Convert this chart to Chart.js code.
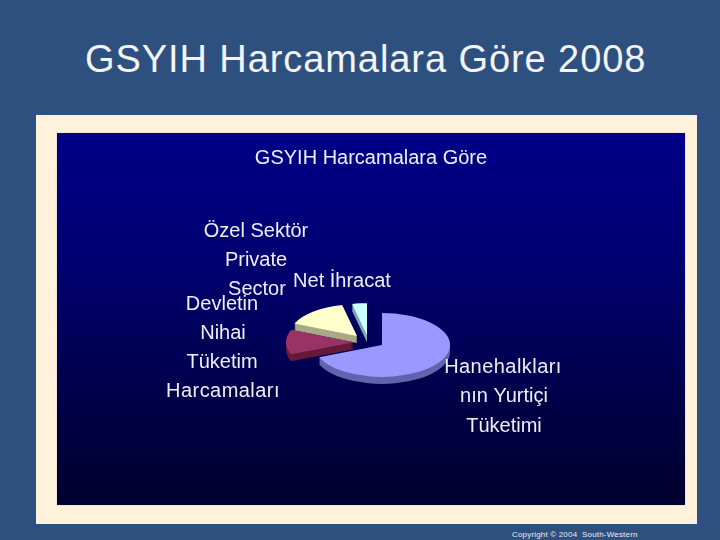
<!DOCTYPE html>
<html><head><meta charset="utf-8">
<script src="https://cdn.jsdelivr.net/npm/chart.js@4"></script>
<style>
html,body{margin:0;padding:0;width:720px;height:540px;overflow:hidden;background:#2e507e}
#cream{position:absolute;left:36px;top:115px;width:661px;height:409px;background:#fff1da}
#panel{position:absolute;left:57px;top:133px;width:628px;height:372px;background:linear-gradient(#000088 0%,#000070 35%,#00004a 70%,#00002e 100%);box-shadow:0 0 1px #b8b0d0}
#slideTitle{position:absolute;left:85px;top:37px;color:#f2f4f8;font:38px "Liberation Sans",Arial,sans-serif;line-height:44px;letter-spacing:.92px;white-space:nowrap}
#copy{position:absolute;left:512px;top:529px;color:#e8eef5;font:8px "Liberation Sans",Arial,sans-serif;line-height:11px;letter-spacing:.18px;white-space:nowrap}
canvas{position:absolute;left:0;top:0}
</style></head><body>
<div id="cream"></div><div id="panel"></div>
<div id="slideTitle">GSYIH Harcamalara Göre 2008</div>
<div id="copy">Copyright © 2004&nbsp; South-Western</div>
<canvas id="c" width="720" height="540"></canvas>
<script>
const categories = ["Hanehalkları nın Yurtiçi Tüketimi","Devletin Nihai Tüketim Harcamaları","Özel Sektör Private Sector","Net İhracat"];
const shares = [68.8, 12.6, 15.1, 3.5];
const topColors = ["#9999ff","#993366","#ffffcc","#ccffff"];
const sideColors = ["#6264ae","#661a3a","#a9a986","#7fa9b0"];
const explodeX = [0,-28,-25,-15];
const explodeY = [0,-6,-19,-21];
const drawOrder = [3,2,1,0];
const innerTitle = "GSYIH Harcamalara Göre";
const labelLines = [
  ["Özel Sektör",256,231,0],["Private",256,260,0],["Sector",257,289,0],
  ["Net İhracat",342,281,0],
  ["Devletin",222,304,0],["Nihai",223,333,0],["Tüketim",222,362,0],["Harcamaları",223,391,.45],
  ["Hanehalkları",503,367,.45],["nın Yurtiçi",504,396,0],["Tüketimi",504,426,0]
];
const squash = 0.47, depth = 7;

const pie3d = {
  id:'pie3d',
  beforeDatasetsDraw(chart){
    const ctx = chart.ctx, meta = chart.getDatasetMeta(0), cy = (chart.chartArea.top+chart.chartArea.bottom)/2;
    const paint = (i,dy,color)=>{
      const el = meta.data[i], saved = el.options;
      el.options = Object.assign({},saved,{backgroundColor:color,borderWidth:0});
      ctx.save();
      ctx.translate(explodeX[i], cy+dy+explodeY[i]*squash);
      ctx.scale(1,squash);
      ctx.translate(0,-cy);
      el.draw(ctx);
      ctx.restore();
      el.options = saved;
    };
    drawOrder.forEach(i=>{
      for(let d=depth;d>0;d--) paint(i,d,sideColors[i]);
      paint(i,0,topColors[i]);
    });
    return false;
  },
  afterDraw(chart){
    const ctx = chart.ctx;
    ctx.save();
    ctx.fillStyle='#eeeef6';
    ctx.textAlign='center';ctx.textBaseline='middle';
    ctx.font='20px "Liberation Sans",Arial,sans-serif';
    ctx.fillText(innerTitle,371,158);
    labelLines.forEach(([t,x,y,s])=>{ctx.letterSpacing=s+'px';ctx.fillText(t,x,y);});
    ctx.restore();
  }
};
new Chart(document.getElementById('c'),{
  type:'pie',
  data:{labels:categories,datasets:[{data:shares,backgroundColor:topColors,borderWidth:0}]},
  options:{responsive:false,animation:false,
    layout:{padding:{left:314,right:270,top:277,bottom:127}},
    plugins:{legend:{display:false},tooltip:{enabled:false},title:{display:false}}},
  plugins:[pie3d]
});
</script></body></html>
